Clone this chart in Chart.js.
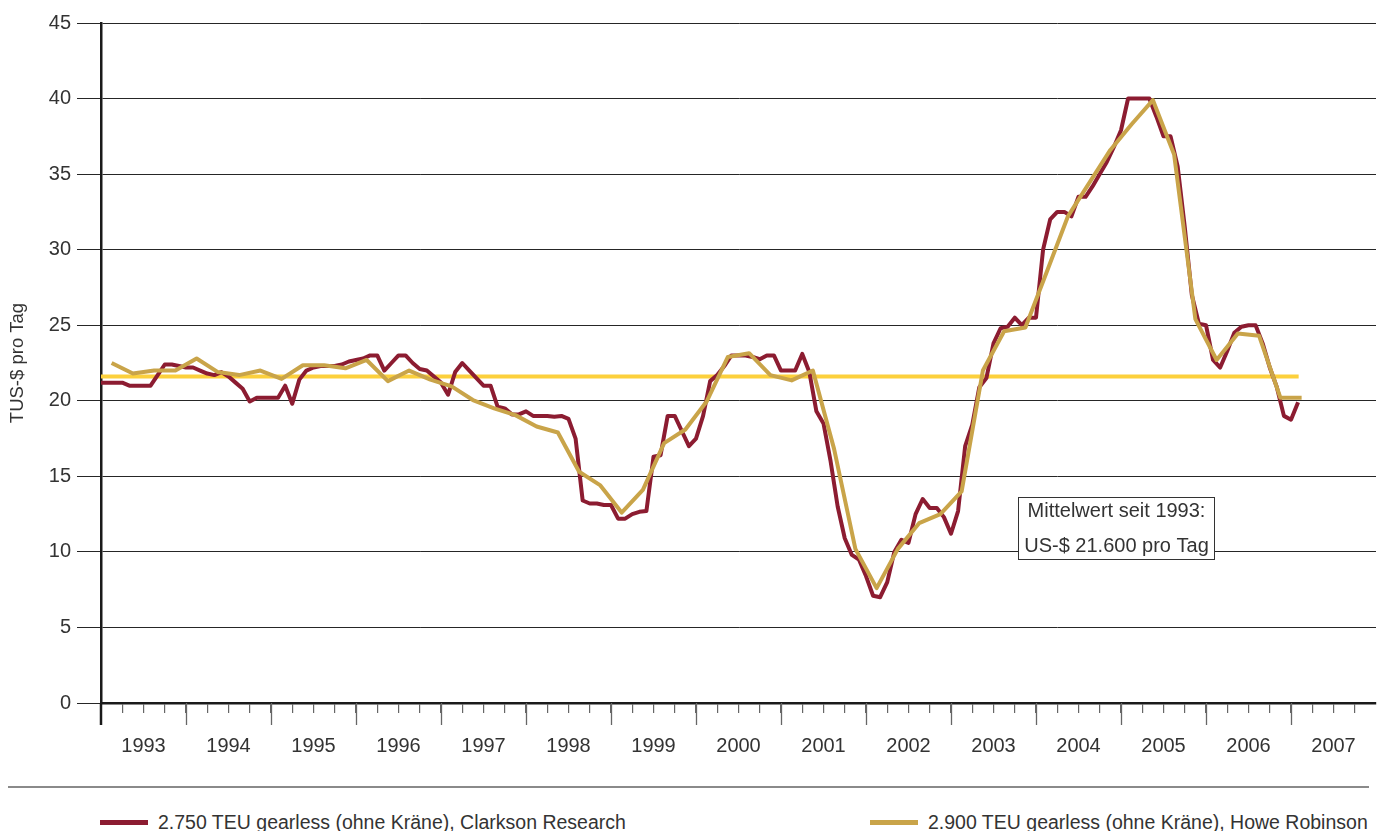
<!DOCTYPE html>
<html>
<head>
<meta charset="utf-8">
<style>
  body { margin: 0; background: #fff; font-family: "Liberation Sans", Arial, sans-serif; }
  #wrap { position: relative; width: 1383px; height: 831px; overflow: hidden; }
  #chart { position: absolute; left: 0; top: 0; }
  #sep { position: absolute; left: 8px; top: 786px; width: 1361px; border-top: 2px solid #8a8a8a; }
  .leg { position: absolute; top: 809px; font-size: 19.5px; color: #333; white-space: nowrap; line-height: 26px; }
  .leg .sw { display: inline-block; width: 48px; height: 5px; vertical-align: middle; margin-right: 10px; position: relative; top: -1px; }
</style>
</head>
<body>
<div id="wrap">
  <canvas id="chart" width="1383" height="780"></canvas>
  <div id="sep"></div>
  <div class="leg" style="left:100px"><span class="sw" style="background:#8c1c31"></span>2.750 TEU gearless (ohne Kräne), Clarkson Research</div>
  <div class="leg" style="left:870px"><span class="sw" style="background:#c9a449"></span>2.900 TEU gearless (ohne Kräne), Howe Robinson</div>
</div>
<script src="https://cdn.jsdelivr.net/npm/chart.js"></script>
<script>
    // Jahre auf der x-Achse (Beschriftung jeweils in der Jahresmitte)
    const jahre = ['1993', '1994', '1995', '1996', '1997', '1998', '1999', '2000',
                   '2001', '2002', '2003', '2004', '2005', '2006', '2007'];

    // Clarkson Research, monatlich ab Jan 1993 (TUS-$ pro Tag)
    const clarksonStart = 1993;
    const clarksonWerte = [
        21.2, 21.2, 21.2, 21.2, 21.0, 21.0, 21.0, 21.0, 21.7, 22.4, 22.4, 22.3,   // 1993
        22.2, 22.2, 22.0, 21.8, 21.7, 21.9, 21.6, 21.2, 20.8, 19.95, 20.2, 20.2,  // 1994
        20.2, 20.2, 21.0, 19.8, 21.4, 22.0, 22.2, 22.3, 22.3, 22.3, 22.4, 22.6,   // 1995
        22.7, 22.8, 23.0, 23.0, 22.0, 22.5, 23.0, 23.0, 22.5, 22.1, 22.0, 21.6,   // 1996
        21.2, 20.4, 21.9, 22.5, 22.0, 21.5, 21.0, 21.0, 19.6, 19.5, 19.1, 19.1,   // 1997
        19.3, 19.0, 19.0, 19.0, 18.95, 19.0, 18.8, 17.5, 13.4, 13.2, 13.2, 13.1,  // 1998
        13.1, 12.2, 12.2, 12.5, 12.65, 12.7, 16.3, 16.4, 19.0, 19.0, 18.0, 17.0,  // 1999
        17.5, 19.0, 21.3, 21.7, 22.3, 23.0, 23.0, 23.0, 22.9, 22.75, 23.0, 23.0,  // 2000
        22.0, 22.0, 22.0, 23.1, 21.9, 19.3, 18.5, 16.0, 13.0, 10.9, 9.8, 9.5,     // 2001
        8.4, 7.1, 7.0, 8.0, 10.0, 10.8, 10.6, 12.5, 13.5, 12.9, 12.9, 12.3,       // 2002
        11.2, 12.7, 17.0, 18.4, 20.9, 21.5, 23.8, 24.8, 24.9, 25.5, 25.0, 25.5,   // 2003
        25.5, 30.0, 32.0, 32.5, 32.5, 32.2, 33.5, 33.5, 34.2, 35.0, 35.8, 36.8,   // 2004
        37.9, 40.0, 40.0, 40.0, 40.0, 38.8, 37.5, 37.5, 35.5, 31.5, 27.0, 25.1,   // 2005
        25.0, 22.7, 22.2, 23.3, 24.5, 24.9, 25.0, 25.0, 23.8, 22.2, 20.9, 19.0,   // 2006
        18.75, 19.9                                                               // 2007
    ];

    // Howe Robinson, quartalsweise (Quartalsmitte) ab Q1 1993
    const howeStart = 1993.125;
    const howeWerte = [
        22.5, 21.8, 22.0, 22.0,   // 1993
        22.8, 21.9, 21.7, 22.0,   // 1994
        21.45, 22.35, 22.35, 22.15, // 1995
        22.7, 21.3, 22.0, 21.4,   // 1996
        20.95, 20.05, 19.5, 19.05, // 1997
        18.3, 17.9, 15.3, 14.4,   // 1998
        12.6, 14.1, 17.2, 18.1,   // 1999
        19.95, 22.9, 23.15, 21.7, // 2000
        21.35, 22.0, 16.8, 10.2,  // 2001
        7.6, 10.2, 11.9, 12.5,    // 2002
        14.0, 22.0, 24.6, 24.85,  // 2003
        28.5, 32.2, 34.4, 36.6,   // 2004
        38.3, 39.9, 36.3, 25.4,   // 2005
        22.7, 24.45, 24.3, 20.2,  // 2006
        20.2                      // 2007
    ];

    // Mittelwert seit 1993
    const mittelwert = 21.6;
    const mittelVon = 1993;
    const mittelBis = 2007.09;

    // Kasten mit Beschriftung (in Achseneinheiten)
    const kastenText = ['Mittelwert seit 1993:', 'US-$ 21.600 pro Tag'];
    const kastenX = [2003.785, 2006.094];
    const kastenY = [9.53, 13.65];

    const schrift = '"Liberation Sans", Arial, sans-serif';
    Chart.defaults.font.family = schrift;
    Chart.defaults.color = '#333';

    const datenClarkson = clarksonWerte.map((v, i) => ({ x: clarksonStart + i / 12, y: v }));
    const datenHowe = howeWerte.map((v, i) => ({ x: howeStart + i / 4, y: v }));
    const datenMittel = [{ x: mittelVon, y: mittelwert }, { x: mittelBis, y: mittelwert }];

    // lange Striche an den Jahresgrenzen + Verlängerung der y-Achse
    const jahresStriche = {
        id: 'jahresStriche',
        afterDraw(chart) {
            const { ctx, scales: { x, y } } = chart;
            const unten = y.getPixelForValue(0);
            ctx.save();
            for (let j = 0; j < jahre.length; j++) {
                const px = Math.round(x.getPixelForValue(Number(jahre[j]))) + 0.5;
                ctx.beginPath();
                ctx.strokeStyle = j === 0 ? '#1a1a1a' : '#666';
                ctx.lineWidth = j === 0 ? 2.5 : 1.3;
                ctx.moveTo(j === 0 ? x.left : px, unten);
                ctx.lineTo(j === 0 ? x.left : px, unten + 22);
                ctx.stroke();
            }
            ctx.restore();
        }
    };

    const mittelKasten = {
        id: 'mittelKasten',
        afterDatasetsDraw(chart) {
            const { ctx, scales: { x, y } } = chart;
            const l = Math.round(x.getPixelForValue(kastenX[0])) + 0.5;
            const r = Math.round(x.getPixelForValue(kastenX[1])) + 0.5;
            const t = Math.round(y.getPixelForValue(kastenY[1])) + 0.5;
            const b = Math.round(y.getPixelForValue(kastenY[0])) + 0.5;
            ctx.save();
            ctx.fillStyle = '#fff';
            ctx.fillRect(l, t, r - l, b - t);
            ctx.strokeStyle = '#333';
            ctx.lineWidth = 1;
            ctx.strokeRect(l, t, r - l, b - t);
            ctx.fillStyle = '#333';
            ctx.font = '20px ' + schrift;
            ctx.textAlign = 'center';
            ctx.textBaseline = 'middle';
            ctx.fillText(kastenText[0], (l + r) / 2, t + 14);
            ctx.fillText(kastenText[1], (l + r) / 2, t + 49);
            ctx.restore();
        }
    };

    new Chart(document.getElementById('chart'), {
        type: 'line',
        data: {
            datasets: [{
                label: '2.900 TEU gearless (ohne Kräne), Howe Robinson',
                data: datenHowe,
                borderColor: '#c9a449',
                borderWidth: 4,
                order: 0
            }, {
                label: '2.750 TEU gearless (ohne Kräne), Clarkson Research',
                data: datenClarkson,
                borderColor: '#8c1c31',
                borderWidth: 4,
                order: 1
            }, {
                label: 'Mittelwert',
                data: datenMittel,
                borderColor: '#fcd03c',
                borderWidth: 4,
                order: 2
            }]
        },
        options: {
            responsive: false,
            animation: false,
            elements: {
                point: { radius: 0 },
                line: { tension: 0, fill: false, borderJoinStyle: 'round' }
            },
            layout: { padding: { left: 0, right: 7, top: 23, bottom: 0 } },
            plugins: {
                legend: { display: false },
                tooltip: { enabled: false }
            },
            scales: {
                x: {
                    type: 'linear',
                    min: 1993,
                    max: 2008,
                    afterBuildTicks: (scale) => {
                        const t = [];
                        for (let k = 0; k < 60; k++) t.push({ value: 1993 + k * 0.25 });
                        scale.ticks = t;
                    },
                    afterFit: (scale) => { scale.height = 77; },
                    grid: { drawOnChartArea: false, tickLength: 10, color: '#666', lineWidth: 1.2 },
                    border: { display: true, color: '#1a1a1a', width: 2.5 },
                    ticks: {
                        autoSkip: false,
                        maxRotation: 0,
                        minRotation: 0,
                        padding: 21,
                        color: '#333',
                        font: { size: 20 },
                        callback: (value) => {
                            const rest = value - Math.floor(value);
                            if (Math.abs(rest - 0.5) < 1e-6) return jahre[Math.floor(value) - 1993] || '';
                            return '';
                        }
                    }
                },
                y: {
                    min: 0,
                    max: 45,
                    afterFit: (scale) => { scale.width = 101; },
                    ticks: { stepSize: 5, padding: 6, color: '#333', font: { size: 20 } },
                    grid: { color: '#262626', lineWidth: 1, tickLength: 24 },
                    border: { display: true, color: '#1a1a1a', width: 2.5 },
                    title: {
                        display: true,
                        text: 'TUS-$ pro Tag',
                        color: '#333',
                        font: { size: 18.5 },
                        padding: { top: 7, bottom: 0 }
                    }
                }
            }
        },
        plugins: [jahresStriche, mittelKasten]
    });
</script>
</body>
</html>
